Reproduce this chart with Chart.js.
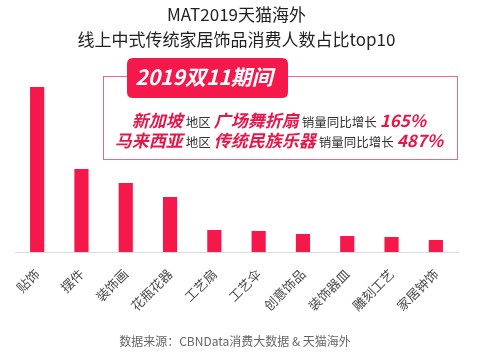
<!DOCTYPE html>
<html><head><meta charset="utf-8">
<script src="https://cdn.jsdelivr.net/npm/chart.js@4/dist/chart.umd.min.js"></script>
<style>html,body{margin:0;padding:0;background:#fff}#wrap{width:500px;height:353px;position:relative}canvas{display:block}</style>
</head><body><div id="wrap"><canvas id="c" width="500" height="353"></canvas></div>
<script>
const categories = ['贴饰','摆件','装饰画','花瓶花器','工艺扇','工艺伞','创意饰品','装饰器皿','雕刻工艺','家居钟饰'];
const values = [16.5, 8.3, 6.9, 5.5, 2.2, 2.1, 1.8, 1.6, 1.5, 1.2];
const titleLines = ['MAT2019天猫海外','线上中式传统家居饰品消费人数占比top10'];
const tabText = '2019双11期间';
const noteLines = [
  [['新加坡','big'],['地区','small'],['广场舞折扇','big'],['销量同比增长','small'],['165%','big']],
  [['马来西亚','big'],['地区','small'],['传统民族乐器','big'],['销量同比增长','small'],['487%','big']]
];
const sourceText = '数据来源：CBNData消费大数据 & 天猫海外';
const FONT = '"Noto Sans CJK SC","Noto Sans",sans-serif';
const RED = '#f4184b';

const deco = {
  id:'deco',
  afterDraw(chart){
    const ctx = chart.ctx;
    const ca = chart.chartArea;
    const cx = (ca.left+ca.right)/2;
    ctx.save();
    ctx.textAlign='center'; ctx.textBaseline='middle';
    ctx.fillStyle='#222';
    ctx.font='17px '+FONT;
    ctx.fillText(titleLines[0], cx, 15);
    ctx.fillText(titleLines[1], cx, 40);
    ctx.strokeStyle='#e46a86'; ctx.lineWidth=1;
    ctx.strokeRect(103.5, 76.5, 354, 83);
    ctx.fillStyle=RED;
    const tx=127, ty=58, tw=161, th=40, r=6;
    ctx.beginPath();
    ctx.moveTo(tx+r,ty); ctx.lineTo(tx+tw-r,ty); ctx.quadraticCurveTo(tx+tw,ty,tx+tw,ty+r);
    ctx.lineTo(tx+tw,ty+th-r); ctx.quadraticCurveTo(tx+tw,ty+th,tx+tw-r,ty+th);
    ctx.lineTo(tx+r,ty+th); ctx.quadraticCurveTo(tx,ty+th,tx,ty+th-r);
    ctx.lineTo(tx,ty+r); ctx.quadraticCurveTo(tx,ty,tx+r,ty); ctx.fill();
    ctx.fillStyle='#fff';
    ctx.font='italic bold 21px '+FONT;
    ctx.fillText(tabText, 204, 77);
    const fonts={big:'italic bold 17px '+FONT, small:'12.5px '+FONT};
    const cols={big:'#e8174a', small:'#333'};
    const ys=[121,141]; const centers=[279,279];
    ctx.textAlign='left';
    noteLines.forEach((segs,i)=>{
      const gap=3;
      let total=0;
      segs.forEach((s,j)=>{ctx.font=fonts[s[1]]; total+=ctx.measureText(s[0]).width+(j?gap:0);});
      let x=centers[i]-total/2;
      segs.forEach(s=>{ctx.font=fonts[s[1]]; ctx.fillStyle=cols[s[1]]; ctx.fillText(s[0],x,ys[i]+(s[1]==='small'?1:0)); x+=ctx.measureText(s[0]).width+gap;});
    });
    ctx.textAlign='center';
    ctx.fillStyle='#666'; ctx.font='12px '+FONT;
    ctx.fillText(sourceText, 235, 341);
    ctx.restore();
  }
};

new Chart(document.getElementById('c'),{
  type:'bar',
  data:{labels:categories,datasets:[{data:values,backgroundColor:RED,barPercentage:0.32,categoryPercentage:1}]},
  options:{
    responsive:false, animation:false, devicePixelRatio:1,
    layout:{padding:{top:52,left:15,right:42,bottom:40}},
    plugins:{legend:{display:false},tooltip:{enabled:false},title:{display:false}},
    scales:{
      y:{display:false,min:0,max:20},
      x:{
        grid:{display:false,drawTicks:false},
        border:{display:true,color:'#dcdcdc',width:1},
        ticks:{minRotation:45,maxRotation:45,autoSkip:false,padding:14,color:'#4a4a4a',font:{size:13,family:FONT}},
        afterFit(s){s.height=61;}
      }
    }
  },
  plugins:[deco]
});
</script>
</body></html>
